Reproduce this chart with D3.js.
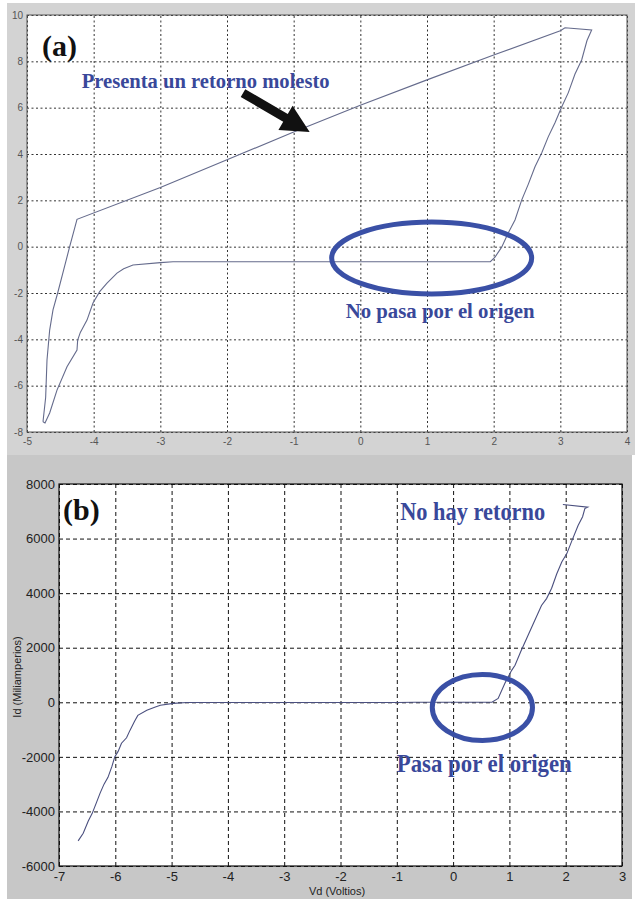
<!DOCTYPE html>
<html>
<head>
<meta charset="utf-8">
<script src="https://cdn.jsdelivr.net/npm/d3@7"></script>
<style>
  html, body { margin: 0; padding: 0; background: #fff; }
  svg { display: block; }
</style>
</head>
<body>
<div id="chart"></div>
<script>
// Panel (a): hysteresis loop, Vd vs Id
const loopX = [-4.76, -4.72, -4.70, -4.66, -4.61, -4.54, -4.45, -4.36, -4.28, -4.25,
               -3, -2, -1, 0, 1, 2, 3, 3.07, 3.47,
               3.40, 3.32, 3.22, 3.12, 3.02, 2.92, 2.82, 2.72, 2.62, 2.52, 2.42, 2.32, 2.22, 2.12, 2.02, 1.95,
               0, -2, -2.81, -3.0, -3.41, -3.55, -3.65, -3.8, -3.91, -4.01, -4.1, -4.2, -4.24, -4.25,
               -4.4, -4.55, -4.66, -4.73, -4.76];
const loopY = [-7.56, -6.5, -4.89, -3.6, -2.73, -2.0, -1.0, 0.0, 0.85, 1.18,
               2.55, 3.75, 4.95, 6.1, 7.2, 8.27, 9.32, 9.45, 9.35,
               8.9, 8.06, 7.45, 6.65, 6.03, 5.35, 4.75, 4.04, 3.45, 2.7, 2.01, 1.15, 0.6, -0.02, -0.45, -0.65,
               -0.65, -0.65, -0.65, -0.69, -0.79, -0.95, -1.14, -1.57, -1.94, -2.43, -3.17, -3.7, -4.03, -4.46,
               -5.18, -6.19, -7.18, -7.61, -7.56];
const xTicksA = [-5, -4, -3, -2, -1, 0, 1, 2, 3, 4];
const yTicksA = [-8, -6, -4, -2, 0, 2, 4, 6, 8, 10];

// Panel (b): Vd (Voltios) vs Id (Miliamperios)
const curveX = [-6.66, -6.57, -6.48, -6.41, -6.33, -6.27, -6.2, -6.13, -6.06, -6.01, -5.95, -5.89, -5.8, -5.74, -5.66,
                -5.6, -5.44, -5.3, -5.2, -4.97, -4.73, -3, -1, -0.68, 0, 0.69, 0.8, 0.92, 1.04, 1.1, 1.2,
                1.33, 1.45, 1.57, 1.66, 1.75, 1.84, 1.93, 2.02, 2.1, 2.22, 2.3, 2.34, 2.39, 1.95];
const curveY = [-5080, -4800, -4350, -4070, -3650, -3330, -3000, -2750, -2350, -2000, -1800, -1500, -1300, -1030, -700,
                -480, -290, -180, -110, -40, -10, -10, -10, 0, 0, 0, 140, 700, 1170, 1360, 1850,
                2450, 3000, 3550, 3800, 4180, 4700, 5140, 5450, 5870, 6480, 6800, 7100, 7150, 7250];
const xTicksB = [-7, -6, -5, -4, -3, -2, -1, 0, 1, 2, 3];
const yTicksB = [-6000, -4000, -2000, 0, 2000, 4000, 6000, 8000];

const W = 635, H = 899;
const blue = "#39489a";
const plain = d => String(d); // hyphen minus, as in the original

const svg = d3.select("#chart").append("svg")
    .attr("width", W)
    .attr("height", H);

// grey figure backgrounds
svg.append("rect").attr("x", 7).attr("y", 3).attr("width", W - 7).attr("height", 452).attr("fill", "#d3d3d3");
svg.append("rect").attr("x", 7).attr("y", 455).attr("width", W - 10).attr("height", H - 455).attr("fill", "#c7c7c7");

// ---------- Panel (a) ----------
const a = { left: 27, right: 627, top: 15, bottom: 432 };
const xA = d3.scaleLinear().domain([-5, 4]).range([a.left, a.right]);
const yA = d3.scaleLinear().domain([-8, 10]).range([a.bottom, a.top]);

const gA = svg.append("g");
gA.append("rect")
    .attr("x", a.left).attr("y", a.top)
    .attr("width", a.right - a.left).attr("height", a.bottom - a.top)
    .attr("fill", "#fff");

// gridlines
gA.append("g")
    .attr("transform", `translate(0,${a.bottom})`)
    .call(d3.axisBottom(xA).tickValues(xTicksA).tickSize(-(a.bottom - a.top)).tickFormat(""))
    .call(g => g.select(".domain").remove())
    .selectAll("line")
    .attr("stroke", "#333")
    .attr("stroke-width", 1)
    .attr("stroke-dasharray", "2,2.5");
gA.append("g")
    .attr("transform", `translate(${a.left},0)`)
    .call(d3.axisLeft(yA).tickValues(yTicksA).tickSize(-(a.right - a.left)).tickFormat(""))
    .call(g => g.select(".domain").remove())
    .selectAll("line")
    .attr("stroke", "#333")
    .attr("stroke-width", 1)
    .attr("stroke-dasharray", "2,2.5");

// box
gA.append("rect")
    .attr("x", a.left).attr("y", a.top)
    .attr("width", a.right - a.left).attr("height", a.bottom - a.top)
    .attr("fill", "none").attr("stroke", "#555").attr("stroke-width", 1);

// tick labels
gA.append("g")
    .attr("transform", `translate(0,${a.bottom})`)
    .call(d3.axisBottom(xA).tickValues(xTicksA).tickSize(0).tickPadding(6).tickFormat(plain))
    .call(g => g.select(".domain").remove())
    .selectAll("text")
    .attr("fill", "#555")
    .style("font-family", "'Liberation Sans', Arial, sans-serif")
    .style("font-size", "10px");
gA.append("g")
    .attr("transform", `translate(${a.left},0)`)
    .call(d3.axisLeft(yA).tickValues(yTicksA).tickSize(0).tickPadding(4).tickFormat(plain))
    .call(g => g.select(".domain").remove())
    .selectAll("text")
    .attr("fill", "#555")
    .style("font-family", "'Liberation Sans', Arial, sans-serif")
    .style("font-size", "10px");

// loop curve
const loopData = loopX.map((x, i) => [x, loopY[i]]);
gA.append("path")
    .datum(loopData)
    .attr("d", d3.line().x(d => xA(d[0])).y(d => yA(d[1])))
    .attr("fill", "none")
    .attr("stroke", "#656b8c")
    .attr("stroke-width", 1.1);

// annotations (a)
gA.append("text")
    .attr("x", 42).attr("y", 56)
    .text("(a)")
    .style("font-family", "'Liberation Serif', 'Times New Roman', serif")
    .style("font-weight", "bold")
    .style("font-size", "30px")
    .attr("fill", "#111");

gA.append("text")
    .attr("x", xA(-4.18)).attr("y", yA(6.85))
    .attr("textLength", 248).attr("lengthAdjust", "spacingAndGlyphs")
    .text("Presenta un retorno molesto")
    .style("font-family", "'Liberation Serif', 'Times New Roman', serif")
    .style("font-weight", "bold")
    .style("font-size", "20px")
    .attr("fill", blue);

// arrow
const tail = [xA(-1.76), yA(6.63)], tip = [xA(-0.76), yA(4.95)];
const ang = Math.atan2(tip[1] - tail[1], tip[0] - tail[0]);
const headLen = 28, headHalf = 14, shaftHalf = 4.5;
const ux = Math.cos(ang), uy = Math.sin(ang), px = -uy, py = ux;
const base = [tip[0] - ux * headLen, tip[1] - uy * headLen];
const arrowPts = [
    [tail[0] + px * shaftHalf, tail[1] + py * shaftHalf],
    [base[0] + px * shaftHalf, base[1] + py * shaftHalf],
    [base[0] + px * headHalf, base[1] + py * headHalf],
    tip,
    [base[0] - px * headHalf, base[1] - py * headHalf],
    [base[0] - px * shaftHalf, base[1] - py * shaftHalf],
    [tail[0] - px * shaftHalf, tail[1] - py * shaftHalf]
];
gA.append("path")
    .attr("d", d3.line()(arrowPts) + "Z")
    .attr("fill", "#111");

gA.append("ellipse")
    .attr("cx", xA(1.07)).attr("cy", yA(-0.49))
    .attr("rx", xA(1.07 + 1.5) - xA(1.07)).attr("ry", yA(-0.49 - 1.55) - yA(-0.49))
    .attr("fill", "none").attr("stroke", "#3a50a6").attr("stroke-width", 5);

gA.append("text")
    .attr("x", xA(-0.22)).attr("y", yA(-3.08))
    .attr("textLength", 189).attr("lengthAdjust", "spacingAndGlyphs")
    .text("No pasa por el origen")
    .style("font-family", "'Liberation Serif', 'Times New Roman', serif")
    .style("font-weight", "bold")
    .style("font-size", "20px")
    .attr("fill", blue);

// ---------- Panel (b) ----------
const b = { left: 59, right: 622, top: 484, bottom: 866 };
const xB = d3.scaleLinear().domain([-7, 3]).range([b.left, b.right]);
const yB = d3.scaleLinear().domain([-6000, 8000]).range([b.bottom, b.top]);

const gB = svg.append("g");
gB.append("rect")
    .attr("x", b.left).attr("y", b.top)
    .attr("width", b.right - b.left).attr("height", b.bottom - b.top)
    .attr("fill", "#fff");

gB.append("g")
    .attr("transform", `translate(0,${b.bottom})`)
    .call(d3.axisBottom(xB).tickValues(xTicksB).tickSize(-(b.bottom - b.top)).tickFormat(""))
    .call(g => g.select(".domain").remove())
    .selectAll("line")
    .attr("stroke", "#111")
    .attr("stroke-width", 1)
    .attr("stroke-dasharray", "4,3");
gB.append("g")
    .attr("transform", `translate(${b.left},0)`)
    .call(d3.axisLeft(yB).tickValues(yTicksB).tickSize(-(b.right - b.left)).tickFormat(""))
    .call(g => g.select(".domain").remove())
    .selectAll("line")
    .attr("stroke", "#111")
    .attr("stroke-width", 1)
    .attr("stroke-dasharray", "4,3");

gB.append("rect")
    .attr("x", b.left).attr("y", b.top)
    .attr("width", b.right - b.left).attr("height", b.bottom - b.top)
    .attr("fill", "none").attr("stroke", "#111").attr("stroke-width", 1.2);

gB.append("g")
    .attr("transform", `translate(0,${b.bottom})`)
    .call(d3.axisBottom(xB).tickValues(xTicksB).tickSize(0).tickPadding(6).tickFormat(plain))
    .call(g => g.select(".domain").remove())
    .selectAll("text")
    .attr("fill", "#222")
    .style("font-family", "'Liberation Sans Narrow', 'Liberation Sans', Arial, sans-serif")
    .style("font-size", "13px");
gB.append("g")
    .attr("transform", `translate(${b.left},0)`)
    .call(d3.axisLeft(yB).tickValues(yTicksB).tickSize(0).tickPadding(4).tickFormat(plain))
    .call(g => g.select(".domain").remove())
    .selectAll("text")
    .attr("fill", "#222")
    .style("font-family", "'Liberation Sans Narrow', 'Liberation Sans', Arial, sans-serif")
    .style("font-size", "13px");

gB.append("text")
    .attr("transform", "translate(21,677) rotate(-90)")
    .attr("text-anchor", "middle")
    .text("Id (Miliamperios)")
    .style("font-family", "'Liberation Sans', Arial, sans-serif")
    .style("font-size", "11px")
    .attr("fill", "#222");
gB.append("text")
    .attr("x", 337).attr("y", 895)
    .attr("text-anchor", "middle")
    .text("Vd (Voltios)")
    .style("font-family", "'Liberation Sans', Arial, sans-serif")
    .style("font-size", "11px")
    .attr("fill", "#222");

const curveData = curveX.map((x, i) => [x, curveY[i]]);
gB.append("path")
    .datum(curveData)
    .attr("d", d3.line().x(d => xB(d[0])).y(d => yB(d[1])))
    .attr("fill", "none")
    .attr("stroke", "#4a4f7e")
    .attr("stroke-width", 1.1);

gB.append("text")
    .attr("x", 63).attr("y", 520)
    .text("(b)")
    .style("font-family", "'Liberation Serif', 'Times New Roman', serif")
    .style("font-weight", "bold")
    .style("font-size", "30px")
    .attr("fill", "#111");

gB.append("text")
    .attr("x", xB(-0.94)).attr("y", yB(6690))
    .attr("textLength", 145).attr("lengthAdjust", "spacingAndGlyphs")
    .text("No hay retorno")
    .style("font-family", "'Liberation Serif', 'Times New Roman', serif")
    .style("font-weight", "bold")
    .style("font-size", "25px")
    .attr("fill", blue);

gB.append("ellipse")
    .attr("cx", xB(0.52)).attr("cy", yB(-190))
    .attr("rx", xB(0.52 + 0.89) - xB(0.52)).attr("ry", yB(-190 - 1210) - yB(-190))
    .attr("fill", "none").attr("stroke", "#3a50a6").attr("stroke-width", 5);

gB.append("text")
    .attr("x", xB(-1.0)).attr("y", yB(-2540))
    .attr("textLength", 175).attr("lengthAdjust", "spacingAndGlyphs")
    .text("Pasa por el origen")
    .style("font-family", "'Liberation Serif', 'Times New Roman', serif")
    .style("font-weight", "bold")
    .style("font-size", "25px")
    .attr("fill", blue);
</script>
</body>
</html>
